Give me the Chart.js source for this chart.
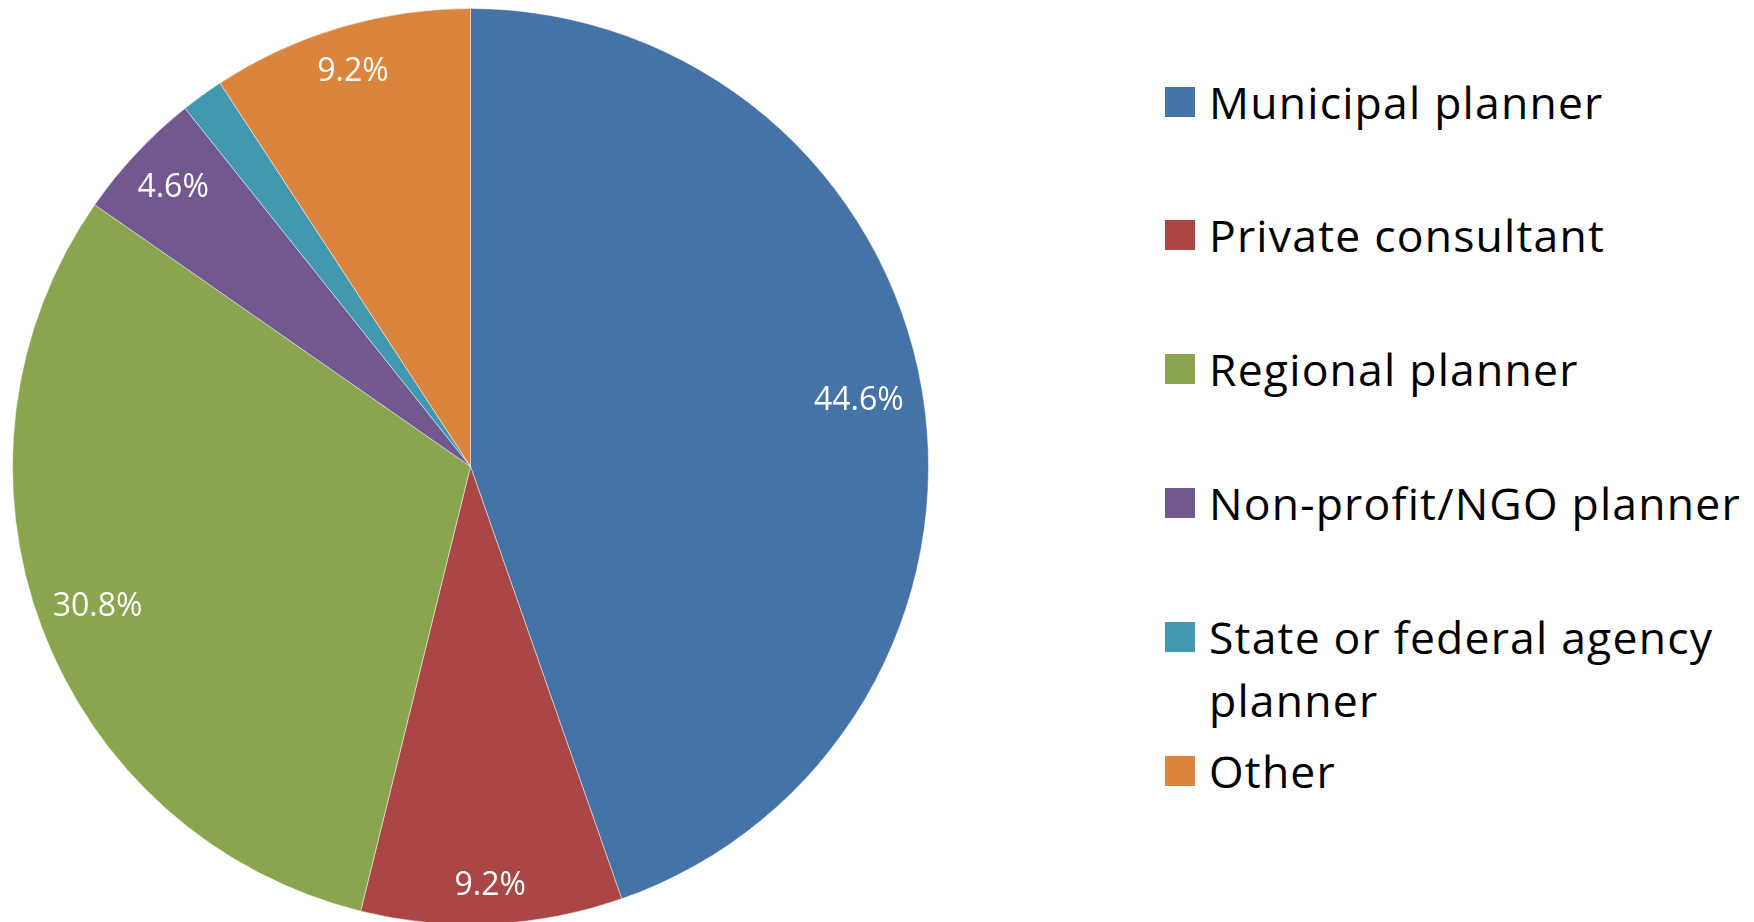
<!DOCTYPE html>
<html>
<head>
<meta charset="utf-8">
<script src="https://cdn.jsdelivr.net/npm/chart.js@4.4.1/dist/chart.umd.min.js"></script>
<style>
  html, body { margin: 0; padding: 0; background: #fff; width: 1754px; height: 922px; overflow: hidden; }
  #pieWrap { position: absolute; left: 12px; top: 8px; width: 917px; height: 917px; }
  #legend { position: absolute; left: 1165px; top: 0; font-family: 'Open Sans', 'Noto Sans', sans-serif; font-size: 44.5px; letter-spacing: 1.2px; color: #000; }
  .item { position: absolute; left: 0; width: 590px; }
  .swatch { position: absolute; left: 0; width: 30px; height: 30px; }
  .txt { position: absolute; left: 44px; line-height: 63px; white-space: nowrap; }
</style>
</head>
<body>
<div id="pieWrap"><canvas id="pie"></canvas></div>
<div id="legend"></div>
<script>
// ---------- data ----------
const categories = ['Municipal planner', 'Private consultant', 'Regional planner', 'Non-profit/NGO planner', 'State or federal agency planner', 'Other'];
const legendLines = [['Municipal planner'], ['Private consultant'], ['Regional planner'], ['Non-profit/NGO planner'], ['State or federal agency', 'planner'], ['Other']];
const percentages = [44.6, 9.2, 30.8, 4.6, 1.5, 9.2];
const colors = ['#4572A7', '#AA4643', '#89A54E', '#71588F', '#4198AF', '#DB843D'];

// ---------- legend (html, so the long label can wrap) ----------
const legendEl = document.getElementById('legend');
const rowCentres = [101, 234, 368, 502, 636, 770];
legendLines.forEach((lines, i) => {
  const item = document.createElement('div');
  item.className = 'item';
  item.style.top = (rowCentres[i] - 31.5) + 'px';
  const sw = document.createElement('div');
  sw.className = 'swatch';
  sw.style.background = colors[i];
  sw.style.top = '17px';
  const txt = document.createElement('div');
  txt.className = 'txt';
  txt.innerHTML = lines.join('<br>');
  item.appendChild(sw);
  item.appendChild(txt);
  legendEl.appendChild(item);
});

// ---------- percent labels inside slices ----------
// how far out along each slice's middle the label sits (fraction of radius)
const labelReach = [0.86, 0.917, 0.87, 0.89, 0.89, 0.9];
const sliceLabels = {
  id: 'sliceLabels',
  afterDatasetsDraw(chart) {
    const ctx = chart.ctx;
    const meta = chart.getDatasetMeta(0);
    ctx.save();
    ctx.fillStyle = '#fff';
    ctx.font = '32px "Open Sans", "Noto Sans", sans-serif';
    ctx.textAlign = 'center';
    ctx.textBaseline = 'middle';
    meta.data.forEach((arc, i) => {
      const v = percentages[i];
      if (v < 2) return;
      const mid = (arc.startAngle + arc.endAngle) / 2;
      const r = arc.outerRadius * labelReach[i];
      ctx.fillText(v.toFixed(1) + '%', arc.x + Math.cos(mid) * r, arc.y + Math.sin(mid) * r);
    });
    ctx.restore();
  }
};

new Chart(document.getElementById('pie'), {
  type: 'pie',
  data: {
    labels: categories,
    datasets: [{
      data: percentages,
      backgroundColor: colors,
      borderColor: 'rgba(255,255,255,0.45)',
      borderWidth: 1
    }]
  },
  options: {
    responsive: true,
    maintainAspectRatio: false,
    animation: false,
    layout: { padding: 0 },
    plugins: {
      legend: { display: false },
      tooltip: { enabled: false }
    }
  },
  plugins: [sliceLabels]
});
</script>
</body>
</html>
